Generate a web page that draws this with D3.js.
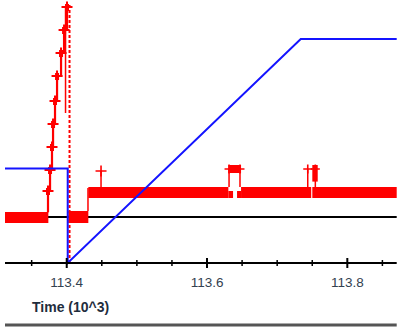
<!DOCTYPE html>
<html>
<head>
<meta charset="utf-8">
<script src="https://cdn.jsdelivr.net/npm/d3@7"></script>
<style>
  html, body { margin: 0; padding: 0; background: #fff; }
  svg { display: block; }
  .tick-label { font-family: "Liberation Sans", Arial, sans-serif; font-size: 13.5px; fill: #33414f; }
  .axis-title { font-family: "Liberation Sans", Arial, sans-serif; font-size: 14px; font-weight: bold; fill: #1f2d3d; }
</style>
</head>
<body>
<svg id="chart" width="405" height="327"></svg>
<script>
// Time axis (units of 10^3)
const timeDomain = [113.312, 113.8704];
const majorTicks = [113.4, 113.6, 113.8];
const minorTicks = [113.35, 113.45, 113.5, 113.55, 113.65, 113.7, 113.75, 113.85];
const tickLabels = ["113.4", "113.6", "113.8"];
const valueDomain = [-2.3, 10.6];

// Reference level
const baseLevel = 0;

// Blue trace
const blueTime  = [113.312, 113.4014, 113.4014, 113.7336, 113.8704];
const blueValue = [2.43, 2.43, -2.3, 8.9, 8.9];

// Red envelope band segments
const bandStart = [113.312, 113.4023, 113.4308, 113.6304, 113.6428, 113.6485, 113.7501];
const bandEnd   = [113.3738, 113.4308, 113.6304, 113.6371, 113.6485, 113.7485, 113.8704];
const bandLow   = [-0.3, -0.3, 0.95, 0.95, 0.95, 0.95, 0.95];
const bandHigh  = [0.25, 0.3, 1.5, 1.3, 1.3, 1.5, 1.5];

// Red rising staircase with sample markers
const rampTime  = [113.3738, 113.3733, 113.3762, 113.3790, 113.3805, 113.3833, 113.3862, 113.3919, 113.3962, 113.4004];
const rampValue = [0.25, 1.3, 2.35, 3.5, 4.65, 5.8, 7.05, 8.2, 9.35, 10.5];

// Red markers above the upper band
const spikeTime  = [113.4489, 113.6314, 113.6470, 113.7436, 113.7544];
const spikeValue = [2.3, 2.4, 2.4, 2.4, 2.4];

// Red raised blocks
const blockStart = [113.6304, 113.7501];
const blockEnd   = [113.6485, 113.7578];
const blockLow   = [2.2, 1.77];
const blockHigh  = [2.6, 2.6];

// Red dashed cursor and upper edge of the ramp
const cursorTime = 113.404;
const rampEdgeTime = 113.3983;
const rampEdgeValue = [10.5, 5.2];

const svg = d3.select("#chart");
const x = d3.scaleLinear().domain(timeDomain).range([5, 396.7]);
const y = d3.scaleLinear().domain(valueDomain).range([263, 5]);

const RED = "#ff0000", BLUE = "#1414ff";

// Reference level line
svg.append("line")
  .attr("x1", x(timeDomain[0])).attr("x2", x(timeDomain[1]))
  .attr("y1", y(baseLevel)).attr("y2", y(baseLevel))
  .attr("stroke", "#000").attr("stroke-width", 2);

// Red band segments
const red = svg.append("g");
red.selectAll("rect.band")
  .data(d3.range(bandStart.length))
  .join("rect")
  .attr("class", "band")
  .attr("x", i => x(bandStart[i]))
  .attr("width", i => x(bandEnd[i]) - x(bandStart[i]))
  .attr("y", i => y(bandHigh[i]))
  .attr("height", i => y(bandLow[i]) - y(bandHigh[i]))
  .attr("fill", RED);

// Raised blocks
red.selectAll("rect.block")
  .data(d3.range(blockStart.length))
  .join("rect")
  .attr("class", "block")
  .attr("x", i => x(blockStart[i]))
  .attr("width", i => x(blockEnd[i]) - x(blockStart[i]))
  .attr("y", i => y(blockHigh[i]))
  .attr("height", i => y(blockLow[i]) - y(blockHigh[i]))
  .attr("fill", RED);

// Step between middle and upper band
red.append("line")
  .attr("x1", x(113.4303)).attr("x2", x(113.4303))
  .attr("y1", y(1.45)).attr("y2", y(0.3))
  .attr("stroke", RED).attr("stroke-width", 1.5);

// Rising staircase
const rampPts = rampTime.map((t, i) => [t, rampValue[i]]);
red.append("path")
  .attr("d", d3.line().x(d => x(d[0])).y(d => y(d[1])).curve(d3.curveStepAfter)(rampPts))
  .attr("fill", "none").attr("stroke", RED).attr("stroke-width", 2.2);

// Upper edge of the ramp
red.append("line")
  .attr("x1", x(rampEdgeTime)).attr("x2", x(rampEdgeTime))
  .attr("y1", y(rampEdgeValue[0])).attr("y2", y(rampEdgeValue[1]))
  .attr("stroke", RED).attr("stroke-width", 1.5);

// Dashed cursor
red.append("line")
  .attr("x1", x(cursorTime)).attr("x2", x(cursorTime))
  .attr("y1", y(valueDomain[1])).attr("y2", y(valueDomain[0]))
  .attr("stroke", RED).attr("stroke-width", 2).attr("stroke-dasharray", "3,2");

// Plus markers
function plus(g, cx, cy, arm, w) {
  g.append("path")
    .attr("d", `M${cx - arm},${cy}H${cx + arm}M${cx},${cy - arm}V${cy + arm}`)
    .attr("stroke", RED).attr("stroke-width", w).attr("fill", "none");
}
rampTime.slice(1).forEach((t, i) => {
  // small blob where the ramp settles at each sample
  red.append("rect")
    .attr("x", x(t) - 2).attr("y", y(rampValue[i + 1]) - 3)
    .attr("width", 4).attr("height", 7)
    .attr("fill", RED);
  plus(red, x(t), y(rampValue[i + 1]), 5.5, 2);
});

// Markers with stems down to the upper band
spikeTime.forEach((t, i) => {
  red.append("line")
    .attr("x1", x(t)).attr("x2", x(t))
    .attr("y1", y(spikeValue[i])).attr("y2", y(1.5))
    .attr("stroke", RED).attr("stroke-width", 1.5);
  plus(red, x(t), y(spikeValue[i]), i === 0 ? 5.5 : 4.5, 1.6);
});

// Blue trace
svg.append("path")
  .attr("d", d3.line().x((d, i) => x(blueTime[i])).y((d, i) => y(blueValue[i]))(blueTime))
  .attr("fill", "none").attr("stroke", BLUE).attr("stroke-width", 2);

// Time axis
const axisY = y(valueDomain[0]);
const axis = svg.append("g");
axis.append("line")
  .attr("x1", x(timeDomain[0])).attr("x2", x(timeDomain[1]))
  .attr("y1", axisY).attr("y2", axisY)
  .attr("stroke", "#000").attr("stroke-width", 2);
axis.selectAll("line.major").data(majorTicks).join("line")
  .attr("class", "major")
  .attr("x1", d => x(d)).attr("x2", d => x(d))
  .attr("y1", axisY - 5).attr("y2", axisY + 5)
  .attr("stroke", "#000").attr("stroke-width", 2);
axis.selectAll("line.minor").data(minorTicks).join("line")
  .attr("class", "minor")
  .attr("x1", d => x(d)).attr("x2", d => x(d))
  .attr("y1", axisY - 3).attr("y2", axisY + 3)
  .attr("stroke", "#000").attr("stroke-width", 1.5);
axis.selectAll("text.tick-label").data(majorTicks).join("text")
  .attr("class", "tick-label")
  .attr("x", d => x(d)).attr("y", 287)
  .attr("text-anchor", "middle")
  .text((d, i) => tickLabels[i]);

svg.append("text")
  .attr("class", "axis-title")
  .attr("x", 32).attr("y", 312)
  .text("Time (10^3)");

// Bottom rule
svg.append("line")
  .attr("x1", 5).attr("x2", 396.7)
  .attr("y1", 325).attr("y2", 325)
  .attr("stroke", "#555").attr("stroke-width", 3);
</script>
</body>
</html>
